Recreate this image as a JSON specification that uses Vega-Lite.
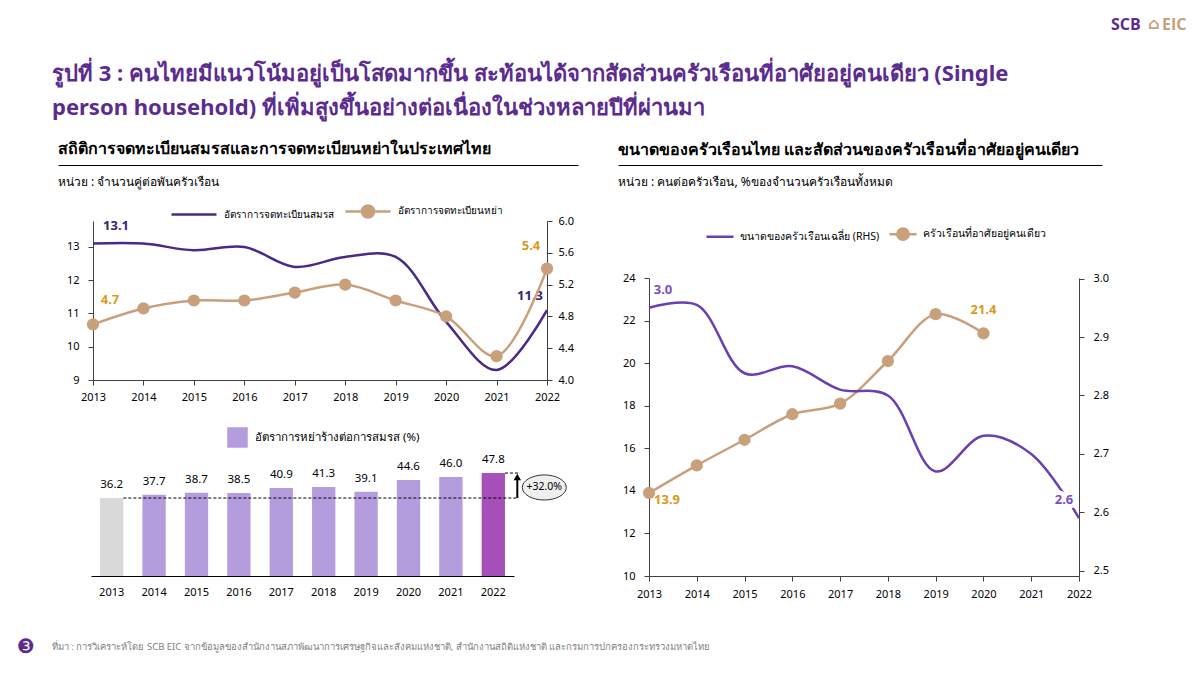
{
  "$schema": "https://vega.github.io/schema/vega-lite/v6.json",
  "background": "white",
  "padding": {"left": 16, "top": 16, "right": 0, "bottom": 0},
  "config": {
    "view": {"stroke": null},
    "font": "Noto Sans",
    "axis": {"labelColor": "#000000", "domainColor": "#404040", "tickColor": "#404040", "grid": false, "title": null, "labelFontSize": 11},
    "legend": {"labelLimit": 400}
  },
  "title": {
    "text": ["รูปที่ 3 : คนไทยมีแนวโน้มอยู่เป็นโสดมากขึ้น สะท้อนได้จากสัดส่วนครัวเรือนที่อาศัยอยู่คนเดียว (Single", "person household) ที่เพิ่มสูงขึ้นอย่างต่อเนื่องในช่วงหลายปีที่ผ่านมา"],
    "anchor": "start", "frame": "group", "dx": -6, "fontSize": 22, "fontWeight": "bold", "color": "#5b2c8e", "lineHeight": 34, "offset": -104
  },
  "datasets": {
    "marriage": [
      {"year": 2013, "value": 13.1, "label": "13.1"},
      {"year": 2014, "value": 13.1},
      {"year": 2015, "value": 12.9},
      {"year": 2016, "value": 13.0},
      {"year": 2017, "value": 12.4},
      {"year": 2018, "value": 12.7},
      {"year": 2019, "value": 12.7},
      {"year": 2020, "value": 10.75},
      {"year": 2021, "value": 9.3},
      {"year": 2022, "value": 11.1, "label": "11.3"}
    ],
    "divorce": [
      {"year": 2013, "value": 4.7, "label": "4.7"},
      {"year": 2014, "value": 4.9},
      {"year": 2015, "value": 5.0},
      {"year": 2016, "value": 5.0},
      {"year": 2017, "value": 5.1},
      {"year": 2018, "value": 5.2},
      {"year": 2019, "value": 5.0},
      {"year": 2020, "value": 4.8},
      {"year": 2021, "value": 4.3},
      {"year": 2022, "value": 5.4, "label": "5.4"}
    ],
    "bars": [
      {"year": 2013, "value": 36.2, "grp": "ฐาน"},
      {"year": 2014, "value": 37.7, "grp": "อัตราการหย่าร้างต่อการสมรส (%)"},
      {"year": 2015, "value": 38.7, "grp": "อัตราการหย่าร้างต่อการสมรส (%)"},
      {"year": 2016, "value": 38.5, "grp": "อัตราการหย่าร้างต่อการสมรส (%)"},
      {"year": 2017, "value": 40.9, "grp": "อัตราการหย่าร้างต่อการสมรส (%)"},
      {"year": 2018, "value": 41.3, "grp": "อัตราการหย่าร้างต่อการสมรส (%)"},
      {"year": 2019, "value": 39.1, "grp": "อัตราการหย่าร้างต่อการสมรส (%)"},
      {"year": 2020, "value": 44.6, "grp": "อัตราการหย่าร้างต่อการสมรส (%)"},
      {"year": 2021, "value": 46.0, "grp": "อัตราการหย่าร้างต่อการสมรส (%)"},
      {"year": 2022, "value": 47.8, "grp": "ล่าสุด"}
    ],
    "single": [
      {"year": 2013, "value": 13.9, "label": "13.9"},
      {"year": 2014, "value": 15.2},
      {"year": 2015, "value": 16.4},
      {"year": 2016, "value": 17.6},
      {"year": 2017, "value": 18.1},
      {"year": 2018, "value": 20.1},
      {"year": 2019, "value": 22.3},
      {"year": 2020, "value": 21.4, "label": "21.4"}
    ],
    "hhsize": [
      {"year": 2013, "value": 2.95, "label": "3.0"},
      {"year": 2014, "value": 2.955},
      {"year": 2015, "value": 2.838},
      {"year": 2016, "value": 2.85},
      {"year": 2017, "value": 2.81},
      {"year": 2018, "value": 2.80},
      {"year": 2019, "value": 2.67},
      {"year": 2020, "value": 2.731},
      {"year": 2021, "value": 2.70},
      {"year": 2022, "value": 2.59, "label": "2.6"}
    ],
    "guide": [{"v": 0}, {"v": 1}],
    "note": [{"growth": "+32.0%", "mid": 41.1, "base": 36.2, "top": 47.8, "source": "ที่มา : การวิเคราะห์โดย SCB EIC จากข้อมูลของสำนักงานสภาพัฒนาการเศรษฐกิจและสังคมแห่งชาติ, สำนักงานสถิติแห่งชาติ และกรมการปกครองกระทรวงมหาดไทย", "page": "❸"}]
  },
  "columns": 2,
  "bounds": "flush",
  "spacing": {"row": 56, "column": 40},
  "resolve": {"scale": {"color": "independent"}, "legend": {"color": "independent"}},
  "concat": [
    {
      "width": 520, "height": 0,
      "title": {"text": "สถิติการจดทะเบียนสมรสและการจดทะเบียนหย่าในประเทศไทย", "anchor": "start", "frame": "group", "fontSize": 16, "fontWeight": "bold", "color": "#000000", "offset": -12},
      "data": {"name": "guide"},
      "mark": {"type": "point", "opacity": 0},
      "encoding": {
        "x": {"field": "v", "type": "quantitative", "scale": {"domain": [0, 1]}, "axis": {"labels": false, "ticks": false, "domainColor": "#000000", "domainWidth": 1}}
      }
    },
    {
      "width": 484, "height": 0,
      "title": {"text": "ขนาดของครัวเรือนไทย และสัดส่วนของครัวเรือนที่อาศัยอยู่คนเดียว", "anchor": "start", "frame": "group", "fontSize": 16, "fontWeight": "bold", "color": "#000000", "offset": -142},
      "data": {"name": "guide"},
      "encoding": {
        "x": {"field": "v", "type": "quantitative", "scale": {"domain": [0, 1]}, "axis": {"labels": false, "ticks": false, "domainColor": "#000000", "domainWidth": 1}}
      },
      "layer": [
        {"mark": {"type": "point", "opacity": 0}},
        {
          "transform": [{"filter": "datum.v == 1"}],
          "mark": {"type": "text", "align": "left", "dx": 9, "dy": -130, "fontSize": 16, "fontWeight": "bold", "color": "#5b2c8e", "font": "Open Sans"},
          "encoding": {"text": {"value": "SCB"}}
        },
        {
          "transform": [{"filter": "datum.v == 1"}],
          "mark": {"type": "text", "align": "left", "dx": 46, "dy": -131, "fontSize": 16, "fontWeight": "bold", "color": "#c8a07a", "font": "DejaVu Sans"},
          "encoding": {"text": {"value": "⌂"}}
        },
        {
          "transform": [{"filter": "datum.v == 1"}],
          "mark": {"type": "text", "align": "left", "dx": 60, "dy": -130, "fontSize": 16, "fontWeight": "bold", "color": "#c8a07a", "font": "Open Sans"},
          "encoding": {"text": {"value": "EIC"}}
        }
      ]
    },
    {
      "width": 520, "height": 355,
      "title": {"text": "หน่วย : จำนวนคู่ต่อพันครัวเรือน", "anchor": "start", "frame": "group", "fontSize": 12, "fontWeight": "normal", "color": "#000000", "offset": -2},
      "resolve": {"scale": {"x": "independent", "y": "independent", "color": "independent"}, "axis": {"x": "independent", "y": "independent"}, "legend": {"color": "independent"}},
      "layer": [
        {
          "encoding": {
            "x": {"field": "year", "type": "quantitative", "scale": {"domain": [2013, 2022], "range": [35, 489]},
                  "axis": {"orient": "bottom", "offset": -196, "values": [2013, 2014, 2015, 2016, 2017, 2018, 2019, 2020, 2021, 2022], "format": "d", "labelFlush": false, "tickSize": 5, "labelPadding": 6}}
          },
          "resolve": {"scale": {"y": "independent"}, "axis": {"y": "independent"}},
          "layer": [
            {
              "data": {"name": "marriage"},
              "encoding": {
                "y": {"field": "value", "type": "quantitative", "scale": {"domain": [9, 13.78], "range": [159, 0], "zero": false, "nice": false},
                      "axis": {"orient": "left", "offset": -35, "values": [9, 10, 11, 12, 13], "tickSize": 5, "labelPadding": 9}}
              },
              "layer": [
                {
                  "mark": {"type": "line", "interpolate": "catmull-rom", "strokeWidth": 2.5},
                  "encoding": {
                    "color": {"datum": "อัตราการจดทะเบียนสมรส",
                      "scale": {"domain": ["อัตราการจดทะเบียนสมรส", "อัตราการจดทะเบียนหย่า"], "range": ["#4a2a85", "#c9a07c"]},
                      "legend": {"orient": "none", "legendX": 112, "legendY": -34, "direction": "horizontal", "title": null,
                        "symbolType": "M-1,0H1", "symbolSize": 2025, "symbolStrokeWidth": 2.5, "labelFontSize": 10, "labelOffset": 6, "columnPadding": 6,
                        "encode": {"symbols": {"update": {
                          "shape": {"signal": "datum.value === 'อัตราการจดทะเบียนหย่า' ? 'M-1,0H1M0.27,0A0.27,0.27,0,1,1,-0.27,0A0.27,0.27,0,1,1,0.27,0' : 'M-1,0H1'"},
                          "fill": {"signal": "datum.value === 'อัตราการจดทะเบียนหย่า' ? '#c9a07c' : 'transparent'"}
                        }}}}
                    }
                  }
                },
                {
                  "transform": [{"filter": "datum.year == 2013"}],
                  "mark": {"type": "text", "dx": 23, "dy": -18, "fontSize": 13, "fontWeight": "bold", "color": "#3d2370"},
                  "encoding": {"text": {"field": "label"}}
                },
                {
                  "transform": [{"filter": "datum.year == 2022"}],
                  "mark": {"type": "text", "dx": -17, "dy": -14, "fontSize": 13, "fontWeight": "bold", "color": "#3d2370"},
                  "encoding": {"text": {"field": "label"}}
                }
              ]
            },
            {
              "data": {"name": "divorce"},
              "encoding": {
                "y": {"field": "value", "type": "quantitative", "scale": {"domain": [4, 6], "range": [159, 0], "zero": false, "nice": false},
                      "axis": {"orient": "right", "offset": -31, "values": [4, 4.4, 4.8, 5.2, 5.6, 6], "format": ".1f", "tickSize": 5, "labelPadding": 6}}
              },
              "layer": [
                {
                  "mark": {"type": "line", "interpolate": "catmull-rom", "strokeWidth": 2.5, "point": {"filled": true, "size": 150}},
                  "encoding": {"color": {"datum": "อัตราการจดทะเบียนหย่า"}}
                },
                {
                  "transform": [{"filter": "datum.year == 2013"}],
                  "mark": {"type": "text", "dx": 17, "dy": -24, "fontSize": 13, "fontWeight": "bold", "color": "#d99a1c"},
                  "encoding": {"text": {"field": "label"}}
                },
                {
                  "transform": [{"filter": "datum.year == 2022"}],
                  "mark": {"type": "text", "dx": -16, "dy": -23, "fontSize": 13, "fontWeight": "bold", "color": "#d99a1c"},
                  "encoding": {"text": {"field": "label"}}
                }
              ]
            }
          ]
        },
        {
          "encoding": {
            "x": {"field": "year", "type": "ordinal", "scale": {"range": [33, 456], "paddingInner": 0.45, "paddingOuter": 0.213},
                  "axis": {"orient": "bottom", "labelAngle": 0, "ticks": false, "domainColor": "#000000", "labelPadding": 10}}
          },
          "layer": [
            {
              "data": {"name": "bars"},
              "mark": {"type": "bar"},
              "encoding": {
                "y": {"field": "value", "type": "quantitative", "scale": {"domain": [0, 65], "range": [355, 215], "nice": false}, "axis": null},
                "color": {"field": "grp", "type": "nominal",
                  "scale": {"domain": ["ฐาน", "อัตราการหย่าร้างต่อการสมรส (%)", "ล่าสุด"], "range": ["#d9d9d9", "#b49ddc", "#a64fba"]},
                  "legend": {"values": ["อัตราการหย่าร้างต่อการสมรส (%)"], "orient": "none", "legendX": 169, "legendY": 206, "title": null,
                    "symbolType": "square", "symbolSize": 420, "symbolStrokeWidth": 0, "labelFontSize": 11.5, "labelOffset": 7}}
              }
            },
            {
              "data": {"name": "bars"},
              "mark": {"type": "text", "dy": -13, "fontSize": 11.5, "color": "#000000"},
              "encoding": {
                "y": {"field": "value", "type": "quantitative"},
                "text": {"field": "value", "type": "quantitative", "format": ".1f"}
              }
            },
            {
              "data": {"name": "note"},
              "mark": {"type": "rule", "strokeDash": [3, 2], "color": "#000000", "strokeWidth": 1, "xOffset": 11.65, "x2Offset": 25},
              "encoding": {
                "x": {"datum": 2013, "type": "ordinal"},
                "x2": {"datum": 2022},
                "y": {"field": "base", "type": "quantitative"}
              }
            },
            {
              "data": {"name": "note"},
              "mark": {"type": "rule", "strokeDash": [3, 2], "color": "#000000", "strokeWidth": 1, "xOffset": 11.65, "x2Offset": 25},
              "encoding": {
                "x": {"datum": 2022, "type": "ordinal"},
                "x2": {"datum": 2022},
                "y": {"field": "top", "type": "quantitative"}
              }
            },
            {
              "data": {"name": "note"},
              "mark": {"type": "rule", "color": "#000000", "strokeWidth": 2, "xOffset": 24, "y2Offset": 6},
              "encoding": {
                "x": {"datum": 2022, "type": "ordinal"},
                "y": {"field": "base", "type": "quantitative"},
                "y2": {"field": "top"}
              }
            },
            {
              "data": {"name": "note"},
              "mark": {"type": "point", "shape": "triangle-up", "filled": true, "color": "#000000", "size": 55, "opacity": 1, "xOffset": 24, "yOffset": 4},
              "encoding": {
                "x": {"datum": 2022, "type": "ordinal"},
                "y": {"field": "top", "type": "quantitative"}
              }
            },
            {
              "data": {"name": "note"},
              "mark": {"type": "point", "shape": "M-1,0A1,0.57,0,1,1,1,0A1,0.57,0,1,1,-1,0Z", "filled": true, "fill": "#efefef", "stroke": "#333333", "strokeWidth": 1, "size": 1936, "opacity": 1, "xOffset": 51},
              "encoding": {
                "x": {"datum": 2022, "type": "ordinal"},
                "y": {"field": "mid", "type": "quantitative"}
              }
            },
            {
              "data": {"name": "note"},
              "mark": {"type": "text", "dx": 51, "fontSize": 10.5, "color": "#000000"},
              "encoding": {
                "x": {"datum": 2022, "type": "ordinal"},
                "y": {"field": "mid", "type": "quantitative"},
                "text": {"field": "growth"}
              }
            },
            {
              "data": {"name": "note"},
              "mark": {"type": "text", "dx": -86, "dy": 71, "fontSize": 20, "color": "#5b2c8e", "font": "DejaVu Sans"},
              "encoding": {
                "x": {"datum": 2013, "type": "ordinal"},
                "y": {"datum": 0, "type": "quantitative"},
                "text": {"field": "page"}
              }
            },
            {
              "data": {"name": "note"},
              "mark": {"type": "text", "align": "left", "dx": -59.7, "dy": 71, "fontSize": 9.5, "color": "#7f7f7f"},
              "encoding": {
                "x": {"datum": 2013, "type": "ordinal"},
                "y": {"datum": 0, "type": "quantitative"},
                "text": {"field": "source"}
              }
            }
          ]
        }
      ]
    },
    {
      "width": 484, "height": 355,
      "title": {"text": "หน่วย : คนต่อครัวเรือน, %ของจำนวนครัวเรือนทั้งหมด", "anchor": "start", "frame": "group", "fontSize": 12, "fontWeight": "normal", "color": "#000000", "offset": 30},
      "encoding": {
        "x": {"field": "year", "type": "quantitative", "scale": {"domain": [2013, 2022], "range": [31, 461]},
              "axis": {"values": [2013, 2014, 2015, 2016, 2017, 2018, 2019, 2020, 2021, 2022], "format": "d", "labelFlush": false, "tickSize": 5, "labelPadding": 7}}
      },
      "resolve": {"scale": {"y": "independent"}, "axis": {"y": "independent"}},
      "layer": [
        {
          "data": {"name": "single"},
          "encoding": {
            "y": {"field": "value", "type": "quantitative", "scale": {"domain": [10, 24], "range": [355, 57], "zero": false, "nice": false},
                  "axis": {"orient": "left", "offset": -31, "values": [10, 12, 14, 16, 18, 20, 22, 24], "tickSize": 5, "labelPadding": 9}}
          },
          "layer": [
            {
              "mark": {"type": "line", "interpolate": "catmull-rom", "strokeWidth": 2.5, "point": {"filled": true, "size": 150}},
              "encoding": {
                "color": {"datum": "ครัวเรือนที่อาศัยอยู่คนเดียว",
                  "scale": {"domain": ["ขนาดของครัวเรือนเฉลี่ย (RHS)", "ครัวเรือนที่อาศัยอยู่คนเดียว"], "range": ["#6a3fae", "#c9a07c"]},
                  "legend": {"orient": "none", "legendX": 87, "legendY": -2, "direction": "horizontal", "title": null,
                    "symbolType": "M-1,0H1", "symbolSize": 729, "symbolStrokeWidth": 2.5, "labelFontSize": 10.5, "labelOffset": 5, "columnPadding": 4,
                    "encode": {"symbols": {"update": {
                      "shape": {"signal": "datum.value === 'ครัวเรือนที่อาศัยอยู่คนเดียว' ? 'M-1,0H1M0.42,0A0.42,0.42,0,1,1,-0.42,0A0.42,0.42,0,1,1,0.42,0' : 'M-1,0H1'"},
                      "fill": {"signal": "datum.value === 'ครัวเรือนที่อาศัยอยู่คนเดียว' ? '#c9a07c' : 'transparent'"}
                    }}}}
                }
              }
            },
            {
              "transform": [{"filter": "datum.year == 2013"}],
              "mark": {"type": "text", "dx": 18, "dy": 7, "fontSize": 13, "fontWeight": "bold", "color": "#d99a1c"},
              "encoding": {"text": {"field": "label"}}
            },
            {
              "transform": [{"filter": "datum.year == 2020"}],
              "mark": {"type": "text", "dx": 0, "dy": -23, "fontSize": 13, "fontWeight": "bold", "color": "#d99a1c"},
              "encoding": {"text": {"field": "label"}}
            }
          ]
        },
        {
          "data": {"name": "hhsize"},
          "encoding": {
            "y": {"field": "value", "type": "quantitative", "scale": {"domain": [2.491, 3.001], "range": [355, 57], "zero": false, "nice": false},
                  "axis": {"orient": "right", "offset": -23, "values": [2.5, 2.6, 2.7, 2.8, 2.9, 3.0], "format": ".1f", "tickSize": 5, "labelPadding": 9}}
          },
          "layer": [
            {
              "mark": {"type": "line", "interpolate": "catmull-rom", "strokeWidth": 2.5},
              "encoding": {"color": {"datum": "ขนาดของครัวเรือนเฉลี่ย (RHS)"}}
            },
            {
              "transform": [{"filter": "datum.year == 2013"}],
              "mark": {"type": "text", "dx": 14, "dy": -18, "fontSize": 13, "fontWeight": "bold", "color": "#7b4fc4"},
              "encoding": {"text": {"field": "label"}}
            },
            {
              "transform": [{"filter": "datum.year == 2022"}],
              "mark": {"type": "text", "dx": -15, "dy": -18, "fontSize": 13, "fontWeight": "bold", "color": "#ffffff", "stroke": "#ffffff", "strokeWidth": 9},
              "encoding": {"text": {"field": "label"}}
            },
            {
              "transform": [{"filter": "datum.year == 2022"}],
              "mark": {"type": "text", "dx": -15, "dy": -18, "fontSize": 13, "fontWeight": "bold", "color": "#7b4fc4"},
              "encoding": {"text": {"field": "label"}}
            }
          ]
        }
      ]
    }
  ]
}
